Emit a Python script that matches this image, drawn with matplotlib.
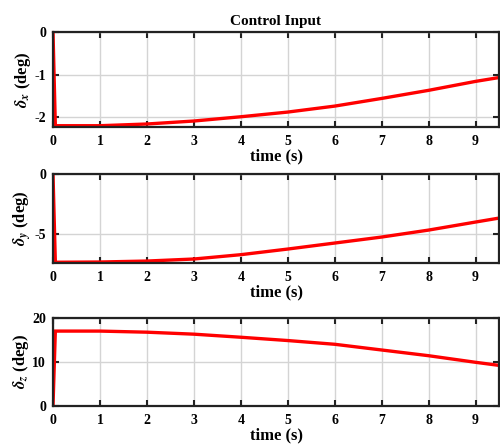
import matplotlib
matplotlib.use("Agg")
import matplotlib.pyplot as plt

# ── Data ────────────────────────────────────────────────────────────
time = [0.0, 0.05, 1, 2, 3, 4, 5, 6, 7, 8, 9, 9.5]
delta_x = [0.0, -2.2, -2.2, -2.16, -2.09, -1.99, -1.88, -1.74, -1.56, -1.37, -1.16, -1.07]
delta_y = [0.0, -7.35, -7.33, -7.25, -7.08, -6.72, -6.25, -5.75, -5.25, -4.67, -4.0, -3.67]
delta_z = [0.0, 17.0, 17.0, 16.75, 16.3, 15.6, 14.85, 14.0, 12.7, 11.4, 9.9, 9.2]

x_ticks = list(range(10))
series = [
    (delta_x, r"$\delta_x$ (deg)", [0, -1, -2], (-2.23, 0)),
    (delta_y, r"$\delta_y$ (deg)", [0, -5], (-7.4, 0)),
    (delta_z, r"$\delta_z$ (deg)", [0, 10, 20], (0, 20)),
]

# ── Style ───────────────────────────────────────────────────────────
plt.rcParams.update({
    "font.family": "Liberation Serif",
    "font.weight": "bold",
    "font.size": 10,
    "mathtext.fontset": "stix",
    "axes.labelweight": "bold",
    "axes.unicode_minus": False,
})

fig = plt.figure(figsize=(5.0, 4.44), dpi=100)
# [left, bottom, width, height] in figure fractions
boxes = [
    [0.106, 0.714, 0.892, 0.214],
    [0.106, 0.408, 0.892, 0.200],
    [0.106, 0.086, 0.892, 0.198],
]

for i, ((vals, ylabel, yticks, ylim), box) in enumerate(zip(series, boxes)):
    ax = fig.add_axes(box)
    ax.plot(time, vals, color="red", linewidth=2.4, solid_joinstyle="miter")
    ax.set_xlim(0, 9.5)
    ax.set_ylim(*ylim)
    ax.set_xticks(x_ticks)
    ax.set_yticks(yticks)
    ax.grid(True, color="#d4d4d4", linewidth=1.0)
    ax.tick_params(direction="in", length=4, width=1.5, top=True, right=True,
                   labelsize=10, colors="#222222", labelcolor="black")
    ax.tick_params(axis="x", pad=6)
    ax.tick_params(axis="y", pad=5)
    for s in ax.spines.values():
        s.set_linewidth(1.6)
        s.set_color("#222222")
    ax.set_xlabel("time (s)", fontsize=12, fontweight="bold", labelpad=0)
    ax.set_ylabel(ylabel, fontsize=12, fontweight="bold", labelpad=1)
    if i == 0:
        ax.set_title("Control Input", fontsize=11, fontweight="bold", pad=5)

fig.savefig("out.png", dpi=100)
